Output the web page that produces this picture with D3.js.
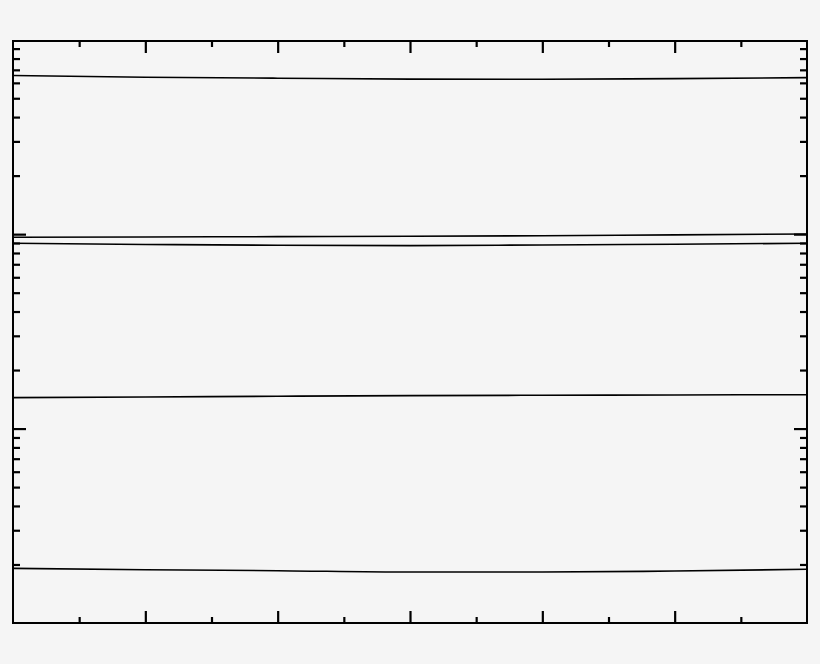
<!DOCTYPE html>
<html>
<head>
<meta charset="utf-8">
<script src="https://cdn.jsdelivr.net/npm/d3@7"></script>
<style>
  html, body { margin: 0; padding: 0; background: #f5f5f5; }
  svg { display: block; }
</style>
</head>
<body>
<div id="chart"></div>
<script>
// x positions of the samples
const xs = [0, 1, 2, 3, 4, 5, 6];

// series values (log y axis)
const series1 = [655, 641, 634, 627, 626, 631, 638];
const series2 = [96.4, 96.7, 97.1, 97.5, 98.2, 99.1, 100.2];
const series3 = [89.8, 88.5, 87.7, 87.3, 88.0, 88.7, 89.8];
const series4 = [14.42, 14.54, 14.66, 14.77, 14.84, 14.89, 14.94];
const series5 = [1.911, 1.880, 1.858, 1.829, 1.829, 1.851, 1.889];

// ticks
const xMajorTicks = [1, 2, 3, 4, 5];
const xMinorTicks = [0.5, 1.5, 2.5, 3.5, 4.5, 5.5];
const yMajorTicks = [10, 100];
const yMinorTicks = [2, 3, 4, 5, 6, 7, 8, 9, 20, 30, 40, 50, 60, 70, 80, 90,
    200, 300, 400, 500, 600, 700, 800, 900];

const allSeries = [series1, series2, series3, series4, series5];

const margin = { top: 41, right: 13, bottom: 41, left: 13 },
    width = 820 - margin.left - margin.right,
    height = 664 - margin.top - margin.bottom;

const svg = d3.select("#chart")
    .append("svg")
    .attr("width", 820)
    .attr("height", 664)
    .append("g")
    .attr("transform", `translate(${margin.left}, ${margin.top})`);

const x = d3.scaleLinear()
    .domain([0, 6])
    .range([0, width]);

const y = d3.scaleLog()
    .domain([1, 985])
    .range([height, 0]);

// inward ticks on all four sides
function addAxis(axisFn, scale, values, size, transform) {
    const g = svg.append("g")
        .attr("transform", transform)
        .call(axisFn(scale).tickValues(values).tickSize(-size).tickFormat(""));
    g.select(".domain").remove();
    g.selectAll(".tick line")
        .attr("stroke", "#000")
        .attr("stroke-width", 2.2);
}

addAxis(d3.axisBottom, x, xMajorTicks, 12, `translate(0, ${height})`);
addAxis(d3.axisBottom, x, xMinorTicks, 6, `translate(0, ${height})`);
addAxis(d3.axisTop, x, xMajorTicks, 12, "translate(0, 0)");
addAxis(d3.axisTop, x, xMinorTicks, 6, "translate(0, 0)");
addAxis(d3.axisLeft, y, yMajorTicks, 13, "translate(0, 0)");
addAxis(d3.axisLeft, y, yMinorTicks, 7, "translate(0, 0)");
addAxis(d3.axisRight, y, yMajorTicks, 13, `translate(${width}, 0)`);
addAxis(d3.axisRight, y, yMinorTicks, 7, `translate(${width}, 0)`);

// lines
const line = d3.line()
    .x((d, i) => x(xs[i]))
    .y(d => y(d))
    .curve(d3.curveMonotoneX);

svg.append("g")
    .selectAll("path")
    .data(allSeries)
    .join("path")
    .attr("d", line)
    .attr("fill", "none")
    .attr("stroke", "#000")
    .attr("stroke-width", 1.6);

// frame
svg.append("rect")
    .attr("x", 0)
    .attr("y", 0)
    .attr("width", width)
    .attr("height", height)
    .attr("fill", "none")
    .attr("stroke", "#000")
    .attr("stroke-width", 2);
</script>
</body>
</html>
